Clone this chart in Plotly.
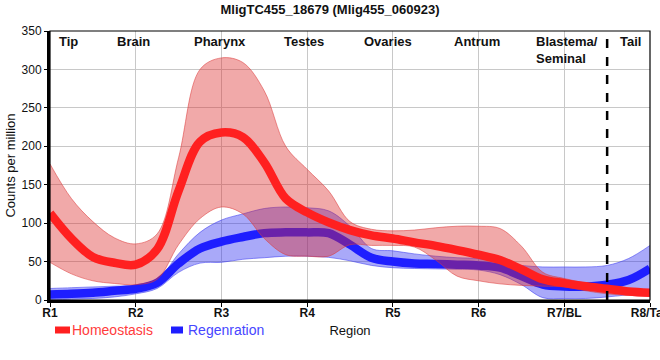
import plotly.graph_objects as go

# ---------------- data ----------------
x_pos = [1, 1.25, 1.5, 1.75, 2, 2.25, 2.5, 2.75, 3, 3.25, 3.5, 3.75, 4, 4.25, 4.5,
         4.75, 5, 5.25, 5.5, 5.75, 6, 6.25, 6.5, 6.75, 7, 7.25, 7.5, 7.75, 8]
tick_vals = [1, 2, 3, 4, 5, 6, 7, 8]
tick_labels = ["R1", "R2", "R3", "R4", "R5", "R6", "R7/BL", "R8/Tail"]
region_names = ["Tip", "Brain", "Pharynx", "Testes", "Ovaries", "Antrum",
                "Blastema/<br>Seminal", "Tail"]
series_names = ["Homeostasis", "Regenration"]

homeo_mean = [113, 80, 56, 48.5, 46, 66, 142, 206, 218, 212, 179, 132, 114, 101, 91,
              84, 80, 75, 70.5, 65, 59, 52, 40, 27, 22, 18, 14.6, 11, 9.4]
homeo_upper = [177, 132, 102, 81, 73, 86, 185, 300, 315, 309, 272, 200, 170, 142, 102,
               92, 90, 91, 94, 96, 96, 93, 70, 36, 28, 22, 17, 15, 13]
homeo_lower = [49, 34, 25, 21.5, 20, 27, 72, 106, 121, 112, 80, 59, 57, 57, 72,
               71, 71, 69, 52, 31, 25, 21, 19, 18, 17, 12, 8, 6, 5]

regen_mean = [7, 8, 9.5, 12, 14.6, 22.5, 47.5, 67, 76, 82, 87, 88, 88, 87, 72,
              55, 50, 47.5, 47, 46, 45, 42, 31, 20, 17.6, 17.6, 20, 26, 41]
regen_upper = [15, 16, 17, 18, 19, 26, 60, 88, 104, 112, 119, 121, 120, 116, 96,
               67, 64, 60, 57, 55, 54, 50, 45, 43, 43, 43, 45, 54, 71]
regen_lower = [0, 1, 2, 4, 8, 15, 36, 48, 49, 53, 55, 57, 57, 55.5, 51,
               45, 42, 41, 40.5, 40, 39, 33, 20, 3, 2, 2, 4, 7, 12]

# ---------------- styles ----------------
RED_LINE = "rgb(255,32,32)"
RED_FILL = "rgba(220,40,40,0.4)"
RED_EDGE = "rgba(220,60,60,0.55)"
RED_TEXT = "#ff3c3c"
BLUE_LINE = "rgb(30,30,255)"
BLUE_FILL = "rgba(40,40,240,0.4)"
BLUE_EDGE = "rgba(60,60,240,0.55)"
BLUE_TEXT = "#4646ff"
FONT = "Liberation Sans, Arial, sans-serif"
LINE_W = 8.5

W, H = 660, 360
ML, MR, MT, MB = 50, 10, 31, 60
PW, PH = W - ML - MR, H - MT - MB


def px_x(p):
    return (p - ML) / PW


def px_y(p):
    return (H - MB - p) / PH


fig = go.Figure()

# Regeneration band + line (drawn first)
fig.add_trace(go.Scatter(x=x_pos, y=regen_lower, mode="lines",
                         line=dict(color=BLUE_EDGE, width=1, shape="spline"),
                         showlegend=False, hoverinfo="skip"))
fig.add_trace(go.Scatter(x=x_pos, y=regen_upper, mode="lines", fill="tonexty",
                         fillcolor=BLUE_FILL,
                         line=dict(color=BLUE_EDGE, width=1, shape="spline"),
                         showlegend=False, hoverinfo="skip"))
fig.add_trace(go.Scatter(x=x_pos, y=regen_mean, mode="lines", name=series_names[1],
                         showlegend=False,
                         line=dict(color=BLUE_LINE, width=LINE_W, shape="spline")))

# Homeostasis band + line
fig.add_trace(go.Scatter(x=x_pos, y=homeo_lower, mode="lines",
                         line=dict(color=RED_EDGE, width=1, shape="spline"),
                         showlegend=False, hoverinfo="skip"))
fig.add_trace(go.Scatter(x=x_pos, y=homeo_upper, mode="lines", fill="tonexty",
                         fillcolor=RED_FILL,
                         line=dict(color=RED_EDGE, width=1, shape="spline"),
                         showlegend=False, hoverinfo="skip"))
fig.add_trace(go.Scatter(x=x_pos, y=homeo_mean, mode="lines", name=series_names[0],
                         showlegend=False,
                         line=dict(color=RED_LINE, width=LINE_W, shape="spline")))

# Dashed separator (between R7 and R8)
fig.add_shape(type="line", xref="x", yref="paper", x0=7.5, x1=7.5, y0=0, y1=1,
              line=dict(color="black", width=2.5, dash="dash"))
# thin top/right frame
fig.add_shape(type="rect", xref="paper", yref="paper", x0=0, x1=1, y0=0, y1=1,
              line=dict(color="black", width=1.2), layer="above")

# Region labels on top
label_x = [1.22, 1.97, 2.98, 3.96, 4.94, 5.98, 6.65, 7.77]
for name, lx in zip(region_names, label_x):
    left = name.startswith("Blastema")
    fig.add_annotation(x=lx, y=1, xref="x", yref="paper", text=f"<b>{name}</b>",
                       showarrow=False, xanchor="left" if left else "center",
                       align="left", yanchor="top", yshift=-1,
                       font=dict(family=FONT, size=13, color="#111"))

# Legend (compact swatches + coloured labels, as in the reference)
legend_items = [(series_names[0], RED_LINE, RED_TEXT, 55, 70, 70),
                (series_names[1], BLUE_LINE, BLUE_TEXT, 171, 183, 186)]
for name, col, tcol, s0, s1, tx in legend_items:
    fig.add_shape(type="rect", xref="paper", yref="paper",
                  x0=px_x(s0), x1=px_x(s1), y0=px_y(333.5), y1=px_y(326.5),
                  line=dict(width=0), fillcolor=col)
    fig.add_annotation(x=px_x(tx), y=px_y(330), xref="paper", yref="paper",
                       text=name, showarrow=False, xanchor="left", yanchor="middle",
                       font=dict(family=FONT, size=14, color=tcol))

fig.update_layout(
    width=W, height=H,
    margin=dict(l=ML, r=MR, t=MT, b=MB, autoexpand=False),
    paper_bgcolor="white", plot_bgcolor="white",
    title=dict(text="<b>MligTC455_18679 (Mlig455_060923)</b>", x=0.5, xanchor="center",
               y=0.975, yanchor="middle",
               font=dict(family=FONT, size=13, color="#111")),
    font=dict(family=FONT, size=12, color="#111"),
    showlegend=False,
    xaxis=dict(range=[1, 8], tickmode="array", tickvals=tick_vals,
               ticktext=[f"<b>{t}</b>" for t in tick_labels],
               automargin=False,
               showgrid=True, gridcolor="#c8c8c8", gridwidth=1,
               showline=True, linecolor="black", linewidth=3,
               ticks="outside", ticklen=4, tickcolor="black", tickwidth=1,
               ticklabelstandoff=-4, ticklabeloverflow="allow",
               tickfont=dict(family=FONT, size=12, color="#111"),
               zeroline=False,
               title=dict(text="Region", standoff=7,
                          font=dict(family=FONT, size=13, color="#111"))),
    yaxis=dict(range=[0, 350], tickmode="linear", tick0=0, dtick=50,
               automargin=False,
               showgrid=True, gridcolor="#c8c8c8", gridwidth=1,
               showline=True, linecolor="black", linewidth=3,
               ticks="outside", ticklen=3, tickcolor="black",
               tickfont=dict(family=FONT, size=12, color="#111"),
               zeroline=False,
               title=dict(text="Counts per million", standoff=4,
                          font=dict(family=FONT, size=13, color="#111"))),
)

fig.write_html("out.html", config={"displayModeBar": False},
               post_script="document.body.style.margin='0';")
